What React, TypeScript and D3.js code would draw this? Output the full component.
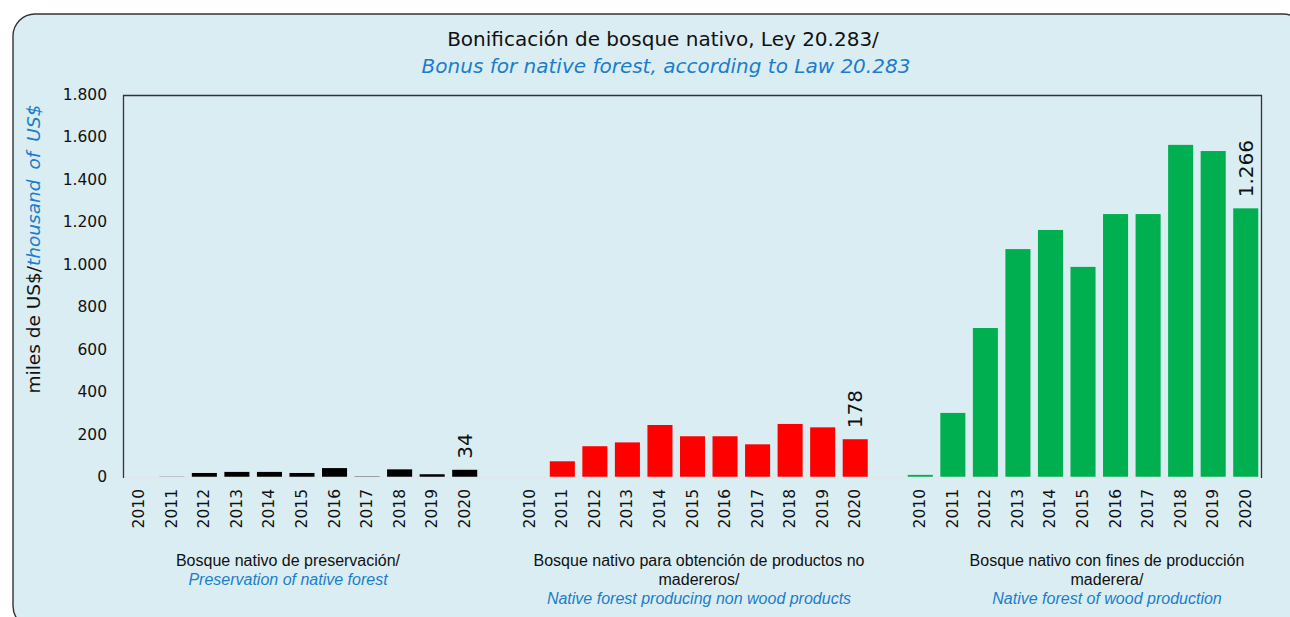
import React from "react";
import * as d3 from "d3";

const years = ["2010","2011","2012","2013","2014","2015","2016","2017","2018","2019","2020"];
const preservation = [0, 1, 19, 24, 24, 19, 42, 2, 36, 13, 34];
const nonWood = [0, 74, 145, 163, 245, 192, 192, 154, 250, 234, 178];
const woodProduction = [10, 302, 702, 1074, 1164, 990, 1239, 1239, 1565, 1536, 1266];
const yTicks = [0, 200, 400, 600, 800, 1000, 1200, 1400, 1600, 1800];

const groups = [
  { key: "pres", values: preservation, color: "#000000",
    es: ["Bosque nativo de preservación/"], en: "Preservation of native forest", labelX: 288 },
  { key: "nonwood", values: nonWood, color: "#FF0000",
    es: ["Bosque nativo para obtención de productos no", "madereros/"], en: "Native forest producing non wood products", labelX: 699 },
  { key: "wood", values: woodProduction, color: "#00B050",
    es: ["Bosque nativo con fines de producción", "maderera/"], en: "Native forest of wood production", labelX: 1107 },
];

const W = 1290, H = 617;
const plot = { left: 123, right: 1262, top: 95, bottom: 477 };
const BG = "#DAEDF3";
const BLUE = "#1B7DCB";

const locale = d3.formatLocale({ decimal: ",", thousands: ".", grouping: [3], currency: ["$", ""] });
const fmt = locale.format(",.0f");

export default function App() {
  const domain: string[] = [];
  groups.forEach((g, gi) => {
    years.forEach((y) => domain.push(`${g.key}-${y}`));
    if (gi < groups.length - 1) domain.push(`gap-${gi}`);
  });
  const x = d3.scaleBand<string>().domain(domain).range([plot.left, plot.right]).paddingInner(0.23).paddingOuter(0.115);
  const y = d3.scaleLinear().domain([0, 1800]).range([plot.bottom, plot.top]);
  const bw = x.bandwidth();
  const tickFont = "'DejaVu Sans', Verdana, sans-serif";

  return (
    <svg width={W} height={H} style={{ position: "absolute", left: 0, top: 0, background: "#fff" }}>
      <rect x={13} y={14} width={1292} height={614} rx={22} ry={22} fill={BG} stroke="#333" strokeWidth={1.4} />

      {/* Title */}
      <text x={663} y={46} textAnchor="middle" fontFamily={tickFont} fontSize={20} fill="#111">
        Bonificación de bosque nativo, Ley 20.283/
      </text>
      <text x={666} y={73} textAnchor="middle" fontFamily={tickFont} fontSize={20} fontStyle="italic" fill={BLUE}>
        Bonus for native forest, according to Law 20.283
      </text>

      {/* Y axis label */}
      <text transform={`translate(40,249) rotate(-90)`} textAnchor="middle" fontFamily={tickFont} fontSize={18.5} fill="#111">
        miles de US$/
        <tspan fontStyle="italic" fill={BLUE}>thousand</tspan>
        <tspan fontStyle="italic" fill={BLUE} dx={10}>of</tspan>
        <tspan fontStyle="italic" fill={BLUE} dx={10}>US$</tspan>
      </text>

      {/* Y ticks */}
      {yTicks.map((t) => (
        <text key={t} x={107} y={y(t)} textAnchor="end" dominantBaseline="central" fontFamily={tickFont} fontSize={15.5} fill="#111">
          {fmt(t)}
        </text>
      ))}

      {/* Bars */}
      {groups.map((g) =>
        g.values.map((v, i) => {
          const k = `${g.key}-${years[i]}`;
          const x0 = x(k)!;
          return <rect key={k} x={x0} y={y(v)} width={bw} height={Math.max(0, y(0) - y(v))} fill={g.color} />;
        })
      )}

      {/* Zero line */}
      <line x1={plot.left} x2={plot.right} y1={y(0) + 0.5} y2={y(0) + 0.5} stroke="#E6E6E6" strokeWidth={1.5} />

      {/* Plot border: left, top, right */}
      <path d={`M${plot.left + 0.5},${plot.bottom + 1} V${plot.top + 0.5} H${plot.right - 0.5} V${plot.bottom + 1}`} fill="none" stroke="#333" strokeWidth={1.3} />

      {/* Value labels for last year */}
      {groups.map((g) => {
        const i = years.length - 1;
        const k = `${g.key}-${years[i]}`;
        const cx = x(k)! + bw / 2;
        const ty = y(g.values[i]) - 11;
        return (
          <text key={`lbl-${k}`} transform={`translate(${cx},${ty}) rotate(-90)`} textAnchor="start" dominantBaseline="central"
            fontFamily={tickFont} fontSize={20} fill="#111">
            {fmt(g.values[i])}
          </text>
        );
      })}

      {/* Year labels */}
      {groups.map((g) =>
        years.map((yr) => {
          const k = `${g.key}-${yr}`;
          const cx = x(k)! + bw / 2;
          return (
            <text key={`yr-${k}`} transform={`translate(${cx},489) rotate(-90)`} textAnchor="end" dominantBaseline="central"
              fontFamily={tickFont} fontSize={15.5} fill="#111">
              {yr}
            </text>
          );
        })
      )}

      {/* Group labels */}
      {groups.map((g) => (
        <g key={`grp-${g.key}`} fontFamily="'Liberation Sans Narrow', 'Liberation Sans', Arial, sans-serif" fontSize={16}>
          {g.es.map((line, li) => (
            <text key={li} x={g.labelX} y={566 + li * 19} textAnchor="middle" fill="#111">{line}</text>
          ))}
          <text x={g.labelX} y={566 + g.es.length * 19} textAnchor="middle" fill={BLUE} fontStyle="italic">{g.en}</text>
        </g>
      ))}
    </svg>
  );
}
